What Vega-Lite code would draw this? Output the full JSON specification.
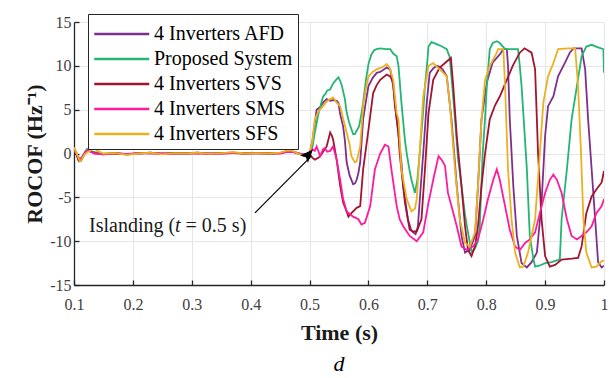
{
"$schema":"https://vega.github.io/schema/vega-lite/v6.json",
"width":530,"height":263,
"autosize":{"type":"none"},
"padding":{"left":74,"top":22,"right":11,"bottom":93},
"background":"white",
"title":{"text":"d","orient":"bottom","font":"Liberation Serif","fontSize":22,"fontStyle":"italic","fontWeight":"normal","color":"#000","offset":11},
"config":{
 "view":{"stroke":null},
 "axis":{"domainColor":"#262626","domainWidth":1.3,"tickColor":"#262626","tickSize":-5,"tickWidth":1.3,"gridColor":"#e6e6e6","gridWidth":1,"labelFont":"Liberation Serif","labelFontSize":16,"labelColor":"#404040","titleFont":"Liberation Serif","titleFontSize":22,"titleFontWeight":"bold","titleColor":"#1a1a1a","labelPadding":8},
 "legend":{"orient":"none","legendX":14,"legendY":-8,"fillColor":"white","strokeColor":"#262626","padding":5,"symbolType":"M-1,0H3","symbolSize":756,"symbolStrokeWidth":2.5,"labelFont":"Liberation Serif","labelFontSize":20,"labelColor":"#000","rowPadding":-1.5,"labelOffset":31}
},
"layer":[
{"data":{"values":[
{"s":"AFD","t":0.1,"v":0.5},{"s":"AFD","t":0.104,"v":0.0},{"s":"AFD","t":0.108,"v":-0.8},{"s":"AFD","t":0.112,"v":-0.7},{"s":"AFD","t":0.116,"v":-0.2},{"s":"AFD","t":0.12,"v":0.3},{"s":"AFD","t":0.124,"v":0.5},{"s":"AFD","t":0.128,"v":0.3},{"s":"AFD","t":0.135,"v":0.1},{"s":"AFD","t":0.15,"v":-0.05},{"s":"AFD","t":0.17,"v":0.05},{"s":"AFD","t":0.19,"v":-0.1},{"s":"AFD","t":0.21,"v":0},{"s":"AFD","t":0.23,"v":0.1},{"s":"AFD","t":0.25,"v":-0.05},{"s":"AFD","t":0.27,"v":0.05},{"s":"AFD","t":0.29,"v":0},{"s":"AFD","t":0.31,"v":0.1},{"s":"AFD","t":0.33,"v":-0.05},{"s":"AFD","t":0.35,"v":0.05},{"s":"AFD","t":0.37,"v":0.1},{"s":"AFD","t":0.39,"v":0},{"s":"AFD","t":0.41,"v":0.05},{"s":"AFD","t":0.43,"v":0},{"s":"AFD","t":0.45,"v":0.05},{"s":"AFD","t":0.46,"v":0.25},{"s":"AFD","t":0.47,"v":0.3},{"s":"AFD","t":0.48,"v":0.05},{"s":"AFD","t":0.49,"v":-0.15},
{"s":"AFD","t":0.5,"v":0},{"s":"AFD","t":0.505,"v":1.5},{"s":"AFD","t":0.509,"v":3.5},{"s":"AFD","t":0.512,"v":5.0},{"s":"AFD","t":0.518,"v":5.3},{"s":"AFD","t":0.523,"v":5.8},{"s":"AFD","t":0.529,"v":6.2},{"s":"AFD","t":0.535,"v":6.0},{"s":"AFD","t":0.54,"v":6.1},{"s":"AFD","t":0.546,"v":6.0},{"s":"AFD","t":0.549,"v":5.8},{"s":"AFD","t":0.552,"v":4.5},{"s":"AFD","t":0.557,"v":3.1},{"s":"AFD","t":0.56,"v":1.5},{"s":"AFD","t":0.563,"v":-1.0},{"s":"AFD","t":0.568,"v":-2.5},{"s":"AFD","t":0.574,"v":-3.5},{"s":"AFD","t":0.577,"v":-3.4},{"s":"AFD","t":0.58,"v":-3.0},{"s":"AFD","t":0.583,"v":-2.2},{"s":"AFD","t":0.586,"v":-1.0},{"s":"AFD","t":0.591,"v":3.9},{"s":"AFD","t":0.597,"v":6.5},{"s":"AFD","t":0.6,"v":7.7},{"s":"AFD","t":0.607,"v":8.6},{"s":"AFD","t":0.614,"v":9.2},{"s":"AFD","t":0.62,"v":9.3},{"s":"AFD","t":0.631,"v":9.8},{"s":"AFD","t":0.637,"v":9.6},{"s":"AFD","t":0.642,"v":7.7},{"s":"AFD","t":0.648,"v":3.9},{"s":"AFD","t":0.651,"v":2.0},{"s":"AFD","t":0.656,"v":-1.0},{"s":"AFD","t":0.659,"v":-3.7},{"s":"AFD","t":0.667,"v":-7.5},{"s":"AFD","t":0.673,"v":-8.8},{"s":"AFD","t":0.676,"v":-9.0},{"s":"AFD","t":0.68,"v":-9.2},{"s":"AFD","t":0.684,"v":-8.3},{"s":"AFD","t":0.688,"v":-4.5},{"s":"AFD","t":0.693,"v":0.0},{"s":"AFD","t":0.699,"v":5.8},{"s":"AFD","t":0.704,"v":9.2},{"s":"AFD","t":0.71,"v":9.7},{"s":"AFD","t":0.716,"v":10.0},{"s":"AFD","t":0.721,"v":9.9},{"s":"AFD","t":0.726,"v":9.6},{"s":"AFD","t":0.733,"v":8.8},{"s":"AFD","t":0.741,"v":3.9},{"s":"AFD","t":0.75,"v":-3.7},{"s":"AFD","t":0.758,"v":-9.4},{"s":"AFD","t":0.764,"v":-11.3},{"s":"AFD","t":0.772,"v":-11.0},{"s":"AFD","t":0.781,"v":-9.4},{"s":"AFD","t":0.786,"v":-3.7},{"s":"AFD","t":0.792,"v":3.9},{"s":"AFD","t":0.801,"v":8.1},{"s":"AFD","t":0.811,"v":10.4},{"s":"AFD","t":0.823,"v":11.3},{"s":"AFD","t":0.829,"v":11.9},{"s":"AFD","t":0.835,"v":11.9},{"s":"AFD","t":0.837,"v":10.0},{"s":"AFD","t":0.84,"v":3.9},{"s":"AFD","t":0.846,"v":-3.7},{"s":"AFD","t":0.852,"v":-9.4},{"s":"AFD","t":0.86,"v":-12.5},{"s":"AFD","t":0.869,"v":-13.0},{"s":"AFD","t":0.877,"v":-12.4},{"s":"AFD","t":0.886,"v":-11.3},{"s":"AFD","t":0.894,"v":-5.6},{"s":"AFD","t":0.9,"v":2.0},{"s":"AFD","t":0.905,"v":5.4},{"s":"AFD","t":0.914,"v":6.5},{"s":"AFD","t":0.922,"v":8.8},{"s":"AFD","t":0.934,"v":10.4},{"s":"AFD","t":0.942,"v":11.5},{"s":"AFD","t":0.948,"v":12.0},{"s":"AFD","t":0.962,"v":12.0},{"s":"AFD","t":0.968,"v":9.6},{"s":"AFD","t":0.973,"v":3.9},{"s":"AFD","t":0.979,"v":-1.8},{"s":"AFD","t":0.985,"v":-7.5},{"s":"AFD","t":0.99,"v":-12.4},{"s":"AFD","t":0.996,"v":-13.0},{"s":"AFD","t":1.0,"v":-12.8},

{"s":"PS","t":0.1,"v":0.6},{"s":"PS","t":0.104,"v":0.1},{"s":"PS","t":0.108,"v":-0.5},{"s":"PS","t":0.112,"v":-0.6},{"s":"PS","t":0.116,"v":-0.1},{"s":"PS","t":0.122,"v":0.5},{"s":"PS","t":0.126,"v":0.4},{"s":"PS","t":0.13,"v":0.2},{"s":"PS","t":0.14,"v":0.1},{"s":"PS","t":0.15,"v":-0.05},{"s":"PS","t":0.17,"v":0.05},{"s":"PS","t":0.19,"v":-0.1},{"s":"PS","t":0.21,"v":0},{"s":"PS","t":0.23,"v":0.1},{"s":"PS","t":0.25,"v":-0.05},{"s":"PS","t":0.27,"v":0.05},{"s":"PS","t":0.29,"v":0},{"s":"PS","t":0.31,"v":0.1},{"s":"PS","t":0.33,"v":-0.05},{"s":"PS","t":0.35,"v":0.05},{"s":"PS","t":0.37,"v":0.1},{"s":"PS","t":0.39,"v":0},{"s":"PS","t":0.41,"v":0.05},{"s":"PS","t":0.43,"v":0},{"s":"PS","t":0.45,"v":0.05},{"s":"PS","t":0.46,"v":0.2},{"s":"PS","t":0.47,"v":0.25},{"s":"PS","t":0.48,"v":0.05},{"s":"PS","t":0.49,"v":-0.1},
{"s":"PS","t":0.5,"v":0},{"s":"PS","t":0.505,"v":0.8},{"s":"PS","t":0.509,"v":2.4},{"s":"PS","t":0.515,"v":4.5},{"s":"PS","t":0.52,"v":5.8},{"s":"PS","t":0.523,"v":6.5},{"s":"PS","t":0.527,"v":6.8},{"s":"PS","t":0.53,"v":7.2},{"s":"PS","t":0.535,"v":7.3},{"s":"PS","t":0.54,"v":8.0},{"s":"PS","t":0.545,"v":8.4},{"s":"PS","t":0.549,"v":8.7},{"s":"PS","t":0.552,"v":8.3},{"s":"PS","t":0.555,"v":7.7},{"s":"PS","t":0.56,"v":6.2},{"s":"PS","t":0.563,"v":4.7},{"s":"PS","t":0.567,"v":3.6},{"s":"PS","t":0.57,"v":3.0},{"s":"PS","t":0.574,"v":2.2},{"s":"PS","t":0.577,"v":2.2},{"s":"PS","t":0.58,"v":2.6},{"s":"PS","t":0.584,"v":3.1},{"s":"PS","t":0.588,"v":4.5},{"s":"PS","t":0.591,"v":5.8},{"s":"PS","t":0.596,"v":8.5},{"s":"PS","t":0.6,"v":10.2},{"s":"PS","t":0.605,"v":11.3},{"s":"PS","t":0.61,"v":11.8},{"s":"PS","t":0.614,"v":11.9},{"s":"PS","t":0.62,"v":12.0},{"s":"PS","t":0.63,"v":11.9},{"s":"PS","t":0.637,"v":11.9},{"s":"PS","t":0.642,"v":11.4},{"s":"PS","t":0.648,"v":11.1},{"s":"PS","t":0.651,"v":10.0},{"s":"PS","t":0.656,"v":5.8},{"s":"PS","t":0.662,"v":1.5},{"s":"PS","t":0.665,"v":0.0},{"s":"PS","t":0.67,"v":-2.0},{"s":"PS","t":0.673,"v":-3.0},{"s":"PS","t":0.679,"v":-4.5},{"s":"PS","t":0.683,"v":-3.0},{"s":"PS","t":0.687,"v":0.0},{"s":"PS","t":0.692,"v":4.0},{"s":"PS","t":0.696,"v":7.7},{"s":"PS","t":0.7,"v":10.5},{"s":"PS","t":0.702,"v":12.2},{"s":"PS","t":0.707,"v":12.7},{"s":"PS","t":0.715,"v":12.5},{"s":"PS","t":0.725,"v":12.2},{"s":"PS","t":0.733,"v":11.9},{"s":"PS","t":0.738,"v":11.0},{"s":"PS","t":0.742,"v":8.0},{"s":"PS","t":0.747,"v":3.9},{"s":"PS","t":0.752,"v":-0.5},{"s":"PS","t":0.758,"v":-3.7},{"s":"PS","t":0.764,"v":-7.0},{"s":"PS","t":0.769,"v":-9.0},{"s":"PS","t":0.775,"v":-11.2},{"s":"PS","t":0.781,"v":-10.8},{"s":"PS","t":0.786,"v":-10.0},{"s":"PS","t":0.789,"v":-8.3},{"s":"PS","t":0.794,"v":0.0},{"s":"PS","t":0.798,"v":4.0},{"s":"PS","t":0.801,"v":7.7},{"s":"PS","t":0.806,"v":11.9},{"s":"PS","t":0.811,"v":12.6},{"s":"PS","t":0.818,"v":12.8},{"s":"PS","t":0.823,"v":12.6},{"s":"PS","t":0.832,"v":11.9},{"s":"PS","t":0.845,"v":11.9},{"s":"PS","t":0.854,"v":11.9},{"s":"PS","t":0.857,"v":10.0},{"s":"PS","t":0.86,"v":7.7},{"s":"PS","t":0.865,"v":2.5},{"s":"PS","t":0.869,"v":-1.8},{"s":"PS","t":0.874,"v":-9.4},{"s":"PS","t":0.88,"v":-12.0},{"s":"PS","t":0.883,"v":-12.9},{"s":"PS","t":0.89,"v":-12.8},{"s":"PS","t":0.9,"v":-12.5},{"s":"PS","t":0.911,"v":-12.4},{"s":"PS","t":0.92,"v":-12.2},{"s":"PS","t":0.925,"v":-12.1},{"s":"PS","t":0.928,"v":-7.5},{"s":"PS","t":0.937,"v":-1.8},{"s":"PS","t":0.945,"v":3.9},{"s":"PS","t":0.954,"v":7.7},{"s":"PS","t":0.962,"v":11.1},{"s":"PS","t":0.97,"v":12.2},{"s":"PS","t":0.979,"v":12.4},{"s":"PS","t":0.99,"v":12.1},{"s":"PS","t":0.999,"v":11.9},{"s":"PS","t":1.0,"v":9.2},

{"s":"SVS","t":0.1,"v":0.5},{"s":"SVS","t":0.104,"v":-0.1},{"s":"SVS","t":0.108,"v":-0.8},{"s":"SVS","t":0.112,"v":-0.8},{"s":"SVS","t":0.116,"v":-0.3},{"s":"SVS","t":0.12,"v":0.2},{"s":"SVS","t":0.124,"v":0.4},{"s":"SVS","t":0.128,"v":0.2},{"s":"SVS","t":0.135,"v":0.05},{"s":"SVS","t":0.15,"v":-0.1},{"s":"SVS","t":0.17,"v":0.0},{"s":"SVS","t":0.19,"v":-0.1},{"s":"SVS","t":0.21,"v":0.05},{"s":"SVS","t":0.23,"v":0.05},{"s":"SVS","t":0.25,"v":-0.05},{"s":"SVS","t":0.27,"v":0.05},{"s":"SVS","t":0.29,"v":0},{"s":"SVS","t":0.31,"v":0.05},{"s":"SVS","t":0.33,"v":-0.05},{"s":"SVS","t":0.35,"v":0.05},{"s":"SVS","t":0.37,"v":0.05},{"s":"SVS","t":0.39,"v":0},{"s":"SVS","t":0.41,"v":0.05},{"s":"SVS","t":0.43,"v":0},{"s":"SVS","t":0.45,"v":0.05},{"s":"SVS","t":0.46,"v":0.2},{"s":"SVS","t":0.47,"v":0.25},{"s":"SVS","t":0.48,"v":0.0},{"s":"SVS","t":0.49,"v":-0.2},
{"s":"SVS","t":0.5,"v":0.0},{"s":"SVS","t":0.505,"v":-0.5},{"s":"SVS","t":0.509,"v":-0.7},{"s":"SVS","t":0.515,"v":-0.5},{"s":"SVS","t":0.518,"v":-0.3},{"s":"SVS","t":0.523,"v":0.2},{"s":"SVS","t":0.529,"v":0.8},{"s":"SVS","t":0.535,"v":2.4},{"s":"SVS","t":0.538,"v":2.0},{"s":"SVS","t":0.54,"v":1.6},{"s":"SVS","t":0.546,"v":-0.7},{"s":"SVS","t":0.552,"v":-3.7},{"s":"SVS","t":0.557,"v":-5.6},{"s":"SVS","t":0.563,"v":-6.6},{"s":"SVS","t":0.566,"v":-7.2},{"s":"SVS","t":0.571,"v":-6.8},{"s":"SVS","t":0.574,"v":-6.6},{"s":"SVS","t":0.58,"v":-6.2},{"s":"SVS","t":0.586,"v":-6.0},{"s":"SVS","t":0.591,"v":-1.8},{"s":"SVS","t":0.6,"v":2.7},{"s":"SVS","t":0.608,"v":6.9},{"s":"SVS","t":0.614,"v":7.8},{"s":"SVS","t":0.62,"v":8.4},{"s":"SVS","t":0.631,"v":9.0},{"s":"SVS","t":0.637,"v":8.8},{"s":"SVS","t":0.642,"v":8.1},{"s":"SVS","t":0.645,"v":5.4},{"s":"SVS","t":0.651,"v":2.5},{"s":"SVS","t":0.653,"v":0.0},{"s":"SVS","t":0.662,"v":-5.6},{"s":"SVS","t":0.67,"v":-8.7},{"s":"SVS","t":0.676,"v":-8.9},{"s":"SVS","t":0.682,"v":-8.9},{"s":"SVS","t":0.69,"v":-7.5},{"s":"SVS","t":0.696,"v":-1.8},{"s":"SVS","t":0.702,"v":4.6},{"s":"SVS","t":0.71,"v":8.4},{"s":"SVS","t":0.721,"v":9.8},{"s":"SVS","t":0.733,"v":10.5},{"s":"SVS","t":0.74,"v":10.9},{"s":"SVS","t":0.744,"v":7.7},{"s":"SVS","t":0.75,"v":2.0},{"s":"SVS","t":0.758,"v":-3.7},{"s":"SVS","t":0.764,"v":-8.3},{"s":"SVS","t":0.769,"v":-11.0},{"s":"SVS","t":0.775,"v":-11.7},{"s":"SVS","t":0.781,"v":-10.6},{"s":"SVS","t":0.786,"v":-8.3},{"s":"SVS","t":0.792,"v":-3.7},{"s":"SVS","t":0.798,"v":0.0},{"s":"SVS","t":0.806,"v":3.9},{"s":"SVS","t":0.815,"v":5.5},{"s":"SVS","t":0.823,"v":6.5},{"s":"SVS","t":0.835,"v":8.4},{"s":"SVS","t":0.845,"v":10.0},{"s":"SVS","t":0.857,"v":11.5},{"s":"SVS","t":0.865,"v":12.0},{"s":"SVS","t":0.877,"v":11.5},{"s":"SVS","t":0.883,"v":9.6},{"s":"SVS","t":0.886,"v":3.9},{"s":"SVS","t":0.888,"v":0.0},{"s":"SVS","t":0.894,"v":-7.5},{"s":"SVS","t":0.9,"v":-11.7},{"s":"SVS","t":0.908,"v":-12.9},{"s":"SVS","t":0.917,"v":-12.7},{"s":"SVS","t":0.928,"v":-12.1},{"s":"SVS","t":0.945,"v":-12.0},{"s":"SVS","t":0.956,"v":-11.9},{"s":"SVS","t":0.962,"v":-10.6},{"s":"SVS","t":0.97,"v":-6.8},{"s":"SVS","t":0.979,"v":-4.9},{"s":"SVS","t":0.987,"v":-4.1},{"s":"SVS","t":0.996,"v":-3.3},{"s":"SVS","t":1.0,"v":-2.0},

{"s":"SMS","t":0.1,"v":0.4},{"s":"SMS","t":0.104,"v":0.0},{"s":"SMS","t":0.108,"v":-0.5},{"s":"SMS","t":0.112,"v":-0.6},{"s":"SMS","t":0.116,"v":-0.2},{"s":"SMS","t":0.12,"v":0.2},{"s":"SMS","t":0.124,"v":0.4},{"s":"SMS","t":0.128,"v":0.2},{"s":"SMS","t":0.135,"v":0.0},{"s":"SMS","t":0.15,"v":-0.1},{"s":"SMS","t":0.17,"v":0.05},{"s":"SMS","t":0.19,"v":-0.05},{"s":"SMS","t":0.21,"v":0.05},{"s":"SMS","t":0.23,"v":0.0},{"s":"SMS","t":0.25,"v":0.05},{"s":"SMS","t":0.27,"v":-0.05},{"s":"SMS","t":0.29,"v":0.05},{"s":"SMS","t":0.31,"v":0.0},{"s":"SMS","t":0.33,"v":0.05},{"s":"SMS","t":0.35,"v":-0.05},{"s":"SMS","t":0.37,"v":0.05},{"s":"SMS","t":0.39,"v":0.05},{"s":"SMS","t":0.41,"v":0},{"s":"SMS","t":0.43,"v":0.05},{"s":"SMS","t":0.45,"v":0},{"s":"SMS","t":0.46,"v":0.15},{"s":"SMS","t":0.47,"v":0.2},{"s":"SMS","t":0.48,"v":0.0},{"s":"SMS","t":0.49,"v":-0.1},
{"s":"SMS","t":0.5,"v":0.0},{"s":"SMS","t":0.505,"v":0.5},{"s":"SMS","t":0.509,"v":0.3},{"s":"SMS","t":0.512,"v":0.8},{"s":"SMS","t":0.518,"v":-0.3},{"s":"SMS","t":0.523,"v":0.5},{"s":"SMS","t":0.526,"v":0.6},{"s":"SMS","t":0.53,"v":0.2},{"s":"SMS","t":0.535,"v":0.3},{"s":"SMS","t":0.54,"v":0.8},{"s":"SMS","t":0.546,"v":-0.7},{"s":"SMS","t":0.552,"v":-3.0},{"s":"SMS","t":0.557,"v":-5.2},{"s":"SMS","t":0.563,"v":-6.6},{"s":"SMS","t":0.574,"v":-7.2},{"s":"SMS","t":0.583,"v":-7.5},{"s":"SMS","t":0.588,"v":-8.1},{"s":"SMS","t":0.594,"v":-7.9},{"s":"SMS","t":0.603,"v":-6.0},{"s":"SMS","t":0.611,"v":-1.8},{"s":"SMS","t":0.62,"v":0.0},{"s":"SMS","t":0.628,"v":1.0},{"s":"SMS","t":0.634,"v":0.8},{"s":"SMS","t":0.639,"v":-1.8},{"s":"SMS","t":0.648,"v":-6.0},{"s":"SMS","t":0.653,"v":-7.5},{"s":"SMS","t":0.659,"v":-8.3},{"s":"SMS","t":0.67,"v":-9.4},{"s":"SMS","t":0.682,"v":-10.0},{"s":"SMS","t":0.693,"v":-9.0},{"s":"SMS","t":0.702,"v":-5.6},{"s":"SMS","t":0.71,"v":-3.0},{"s":"SMS","t":0.719,"v":-0.3},{"s":"SMS","t":0.724,"v":-0.7},{"s":"SMS","t":0.73,"v":-1.4},{"s":"SMS","t":0.735,"v":-4.5},{"s":"SMS","t":0.741,"v":-6.0},{"s":"SMS","t":0.75,"v":-8.3},{"s":"SMS","t":0.758,"v":-10.6},{"s":"SMS","t":0.767,"v":-11.0},{"s":"SMS","t":0.778,"v":-10.6},{"s":"SMS","t":0.786,"v":-9.8},{"s":"SMS","t":0.795,"v":-7.5},{"s":"SMS","t":0.803,"v":-5.2},{"s":"SMS","t":0.812,"v":-3.0},{"s":"SMS","t":0.818,"v":-1.8},{"s":"SMS","t":0.823,"v":-3.0},{"s":"SMS","t":0.832,"v":-6.0},{"s":"SMS","t":0.84,"v":-8.7},{"s":"SMS","t":0.849,"v":-10.6},{"s":"SMS","t":0.857,"v":-11.0},{"s":"SMS","t":0.866,"v":-10.2},{"s":"SMS","t":0.874,"v":-9.8},{"s":"SMS","t":0.883,"v":-9.0},{"s":"SMS","t":0.891,"v":-6.8},{"s":"SMS","t":0.9,"v":-4.5},{"s":"SMS","t":0.908,"v":-3.0},{"s":"SMS","t":0.914,"v":-2.4},{"s":"SMS","t":0.92,"v":-3.0},{"s":"SMS","t":0.928,"v":-4.5},{"s":"SMS","t":0.937,"v":-7.5},{"s":"SMS","t":0.945,"v":-9.4},{"s":"SMS","t":0.954,"v":-9.8},{"s":"SMS","t":0.962,"v":-9.4},{"s":"SMS","t":0.97,"v":-9.0},{"s":"SMS","t":0.979,"v":-8.3},{"s":"SMS","t":0.987,"v":-6.8},{"s":"SMS","t":0.996,"v":-6.0},{"s":"SMS","t":1.0,"v":-5.2},

{"s":"SFS","t":0.1,"v":0.7},{"s":"SFS","t":0.104,"v":0.1},{"s":"SFS","t":0.11,"v":-0.9},{"s":"SFS","t":0.114,"v":-0.6},{"s":"SFS","t":0.118,"v":-0.1},{"s":"SFS","t":0.124,"v":0.2},{"s":"SFS","t":0.13,"v":0.4},{"s":"SFS","t":0.135,"v":0.6},{"s":"SFS","t":0.14,"v":0.3},{"s":"SFS","t":0.15,"v":0.0},{"s":"SFS","t":0.17,"v":0.05},{"s":"SFS","t":0.19,"v":-0.15},{"s":"SFS","t":0.21,"v":0},{"s":"SFS","t":0.23,"v":0.1},{"s":"SFS","t":0.25,"v":-0.1},{"s":"SFS","t":0.27,"v":0.05},{"s":"SFS","t":0.29,"v":0},{"s":"SFS","t":0.31,"v":0.1},{"s":"SFS","t":0.33,"v":-0.05},{"s":"SFS","t":0.35,"v":0.05},{"s":"SFS","t":0.37,"v":0.15},{"s":"SFS","t":0.39,"v":0},{"s":"SFS","t":0.41,"v":0.05},{"s":"SFS","t":0.43,"v":0},{"s":"SFS","t":0.45,"v":0.1},{"s":"SFS","t":0.46,"v":0.3},{"s":"SFS","t":0.47,"v":0.35},{"s":"SFS","t":0.48,"v":0.0},{"s":"SFS","t":0.49,"v":-0.3},
{"s":"SFS","t":0.5,"v":0.0},{"s":"SFS","t":0.505,"v":1.5},{"s":"SFS","t":0.509,"v":3.9},{"s":"SFS","t":0.515,"v":4.8},{"s":"SFS","t":0.523,"v":5.4},{"s":"SFS","t":0.53,"v":6.0},{"s":"SFS","t":0.535,"v":6.2},{"s":"SFS","t":0.54,"v":6.4},{"s":"SFS","t":0.546,"v":5.8},{"s":"SFS","t":0.552,"v":5.4},{"s":"SFS","t":0.557,"v":4.0},{"s":"SFS","t":0.563,"v":2.4},{"s":"SFS","t":0.568,"v":1.0},{"s":"SFS","t":0.571,"v":-0.3},{"s":"SFS","t":0.577,"v":-1.0},{"s":"SFS","t":0.58,"v":-0.9},{"s":"SFS","t":0.586,"v":0.8},{"s":"SFS","t":0.591,"v":5.4},{"s":"SFS","t":0.596,"v":7.5},{"s":"SFS","t":0.6,"v":8.8},{"s":"SFS","t":0.607,"v":9.3},{"s":"SFS","t":0.614,"v":9.6},{"s":"SFS","t":0.625,"v":9.9},{"s":"SFS","t":0.631,"v":10.2},{"s":"SFS","t":0.636,"v":9.8},{"s":"SFS","t":0.642,"v":8.4},{"s":"SFS","t":0.648,"v":4.6},{"s":"SFS","t":0.651,"v":3.9},{"s":"SFS","t":0.656,"v":-1.8},{"s":"SFS","t":0.665,"v":-5.2},{"s":"SFS","t":0.673,"v":-6.6},{"s":"SFS","t":0.679,"v":-6.3},{"s":"SFS","t":0.682,"v":-5.2},{"s":"SFS","t":0.687,"v":0.0},{"s":"SFS","t":0.693,"v":6.5},{"s":"SFS","t":0.702,"v":10.0},{"s":"SFS","t":0.71,"v":10.3},{"s":"SFS","t":0.721,"v":9.6},{"s":"SFS","t":0.733,"v":8.8},{"s":"SFS","t":0.738,"v":5.8},{"s":"SFS","t":0.747,"v":-1.8},{"s":"SFS","t":0.755,"v":-7.5},{"s":"SFS","t":0.764,"v":-10.2},{"s":"SFS","t":0.772,"v":-10.6},{"s":"SFS","t":0.781,"v":-9.0},{"s":"SFS","t":0.786,"v":-3.7},{"s":"SFS","t":0.792,"v":3.9},{"s":"SFS","t":0.798,"v":8.4},{"s":"SFS","t":0.806,"v":10.0},{"s":"SFS","t":0.818,"v":11.5},{"s":"SFS","t":0.82,"v":11.9},{"s":"SFS","t":0.829,"v":11.9},{"s":"SFS","t":0.832,"v":7.7},{"s":"SFS","t":0.837,"v":-1.8},{"s":"SFS","t":0.843,"v":-7.5},{"s":"SFS","t":0.849,"v":-11.3},{"s":"SFS","t":0.857,"v":-13.0},{"s":"SFS","t":0.863,"v":-12.9},{"s":"SFS","t":0.871,"v":-11.3},{"s":"SFS","t":0.883,"v":-7.5},{"s":"SFS","t":0.891,"v":0.0},{"s":"SFS","t":0.897,"v":5.8},{"s":"SFS","t":0.905,"v":8.8},{"s":"SFS","t":0.914,"v":10.3},{"s":"SFS","t":0.922,"v":11.9},{"s":"SFS","t":0.94,"v":12.0},{"s":"SFS","t":0.951,"v":12.0},{"s":"SFS","t":0.956,"v":7.7},{"s":"SFS","t":0.961,"v":0.0},{"s":"SFS","t":0.965,"v":-7.5},{"s":"SFS","t":0.97,"v":-11.3},{"s":"SFS","t":0.979,"v":-13.0},{"s":"SFS","t":0.987,"v":-12.9},{"s":"SFS","t":0.996,"v":-12.3},{"s":"SFS","t":1.0,"v":-12.2}
]},
"mark":{"type":"line","strokeWidth":1.8,"clip":true},
"encoding":{
 "x":{"field":"t","type":"quantitative","scale":{"domain":[0.1,1],"nice":false,"zero":false},
   "axis":{"title":"Time (s)","values":[0.1,0.2,0.3,0.4,0.5,0.6,0.7,0.8,0.9,1],"labelExpr":"'' + datum.value","labelPadding":16,"titlePadding":10,"labelFlush":false}},
 "y":{"field":"v","type":"quantitative","scale":{"domain":[-15,15],"nice":false},
   "axis":{"title":"ROCOF (Hz⁻¹)","values":[-15,-10,-5,0,5,10,15],"labelExpr":"'' + datum.value","titlePadding":3}},
 "color":{"field":"s","type":"nominal","scale":{"domain":["AFD","PS","SVS","SMS","SFS"],"range":["#7E2F8E","#22B573","#A2142F","#FF1A9E","#EDB120"]},
   "legend":{"title":null,"labelExpr":"datum.label == 'PS' ? 'Proposed System' : '4 Inverters ' + datum.label"}},
 "order":{"field":"t","type":"quantitative"}
}},
{"data":{"values":[{"t":0.4073,"v":-6.77,"t2":0.503,"v2":-0.3}]},
 "mark":{"type":"rule","color":"#000","strokeWidth":1.2},
 "encoding":{"x":{"field":"t","type":"quantitative"},"y":{"field":"v","type":"quantitative"},"x2":{"field":"t2"},"y2":{"field":"v2"}}},
{"data":{"values":[{"t":0.5058,"v":0.46}]},
 "mark":{"type":"point","shape":"M0,0 L-0.4,1 L0,0.8 L0.4,1 Z","filled":true,"color":"#000","opacity":1,"size":700,"angle":42.6},
 "encoding":{"x":{"field":"t","type":"quantitative"},"y":{"field":"v","type":"quantitative"}}},
{"data":{"values":[{"t":0.1255,"v":-9.0,"label":"Islanding ("},{"t":0.2895,"v":-9.0,"label":"= 0.5 s)"}]},
 "mark":{"type":"text","align":"left","baseline":"alphabetic","font":"Liberation Serif","fontSize":20,"color":"#1a1a1a"},
 "encoding":{"x":{"field":"t","type":"quantitative"},"y":{"field":"v","type":"quantitative"},"text":{"field":"label"}}},
{"data":{"values":[{"t":0.2715,"v":-9.0,"label":"t"}]},
 "mark":{"type":"text","align":"left","baseline":"alphabetic","font":"Liberation Serif","fontSize":20,"fontStyle":"italic","color":"#1a1a1a"},
 "encoding":{"x":{"field":"t","type":"quantitative"},"y":{"field":"v","type":"quantitative"},"text":{"field":"label"}}}
]
}
